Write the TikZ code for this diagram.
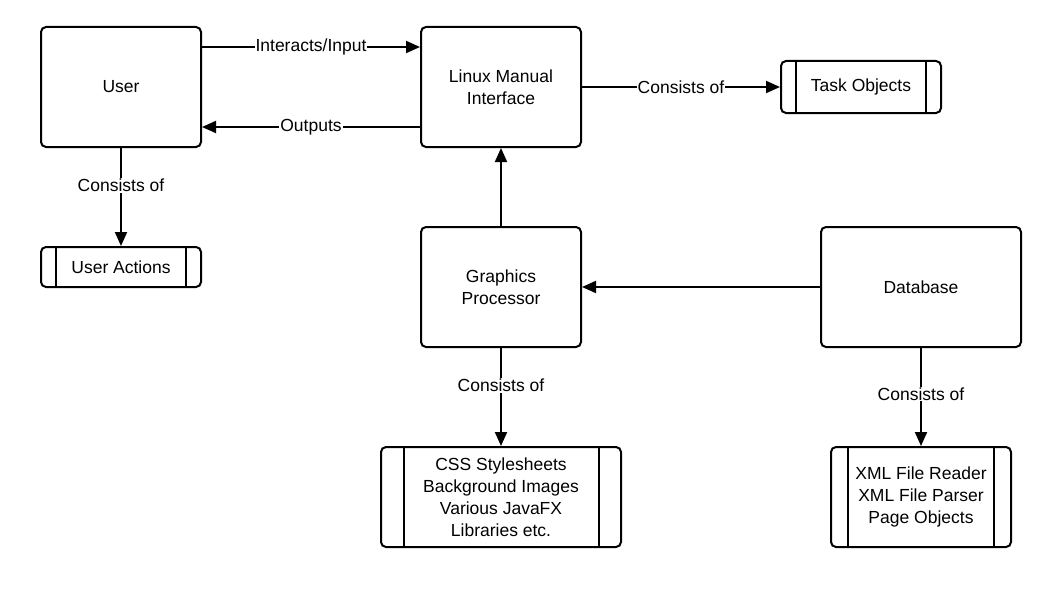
\documentclass[tikz,border=0pt]{standalone}
\usepackage{fontspec}
\setmainfont{Liberation Sans}
\usetikzlibrary{arrows.meta}
\begin{document}
\begin{tikzpicture}[x=1pt,y=-1pt,
  box/.style={draw, line width=2pt, rounded corners=5pt, align=center,
    font=\fontsize{17.5}{22}\selectfont, inner sep=0pt},
  conn/.style={line width=2pt, -{Triangle[length=14pt,width=12pt]}},
  lbl/.style={fill=white, inner sep=1pt, font=\fontsize{17.5}{20}\selectfont},
  bar/.style={line width=2pt}]
\useasboundingbox (0,0) rectangle (1054,602);
\node[box, minimum width=160pt, minimum height=120pt, text depth=2pt] (user) at (121,87) {User};
\node[box, minimum width=160pt, minimum height=120pt] (lmi) at (501,87) {Linux Manual\\Interface};
\node[box, minimum width=160pt, minimum height=52pt] (task) at (861,87) {Task Objects};
\node[box, minimum width=160pt, minimum height=40pt] (ua) at (121,267) {User Actions};
\node[box, minimum width=160pt, minimum height=120pt] (gp) at (501,287) {Graphics\\Processor};
\node[box, minimum width=200pt, minimum height=120pt] (db) at (921,287) {Database};
\node[box, minimum width=240pt, minimum height=100pt] (css) at (501,497) {CSS Stylesheets\\Background Images\\Various JavaFX\\Libraries etc.};
\node[box, minimum width=180pt, minimum height=100pt] (xml) at (921,497) {XML File Reader\\XML File Parser\\Page Objects};
% process bars
\draw[bar] ([xshift=16pt]ua.north west) -- ([xshift=16pt]ua.south west);
\draw[bar] ([xshift=-16pt]ua.north east) -- ([xshift=-16pt]ua.south east);
\draw[bar] ([xshift=16pt]task.north west) -- ([xshift=16pt]task.south west);
\draw[bar] ([xshift=-16pt]task.north east) -- ([xshift=-16pt]task.south east);
\draw[bar] ([xshift=24pt]css.north west) -- ([xshift=24pt]css.south west);
\draw[bar] ([xshift=-23pt]css.north east) -- ([xshift=-23pt]css.south east);
\draw[bar] ([xshift=18pt]xml.north west) -- ([xshift=18pt]xml.south west);
\draw[bar] ([xshift=-18pt]xml.north east) -- ([xshift=-18pt]xml.south east);
% connectors
\draw[conn] (user.east |- 0,47) -- node[lbl] {Interacts/Input} (lmi.west |- 0,47);
\draw[conn] (lmi.west |- 0,127) -- node[lbl] {Outputs} (user.east |- 0,127);
\draw[conn] (lmi.east) -- node[lbl] {Consists of} (task.west);
\draw[conn] (user.south) -- node[lbl, pos=0.38] {Consists of} (ua.north);
\draw[conn] (gp.north) -- (lmi.south);
\draw[conn] (db.west) -- (gp.east);
\draw[conn] (gp.south) -- node[lbl, pos=0.38] {Consists of} (css.north);
\draw[conn] (db.south) -- node[lbl, pos=0.47] {Consists of} (xml.north);
\end{tikzpicture}
\end{document}
